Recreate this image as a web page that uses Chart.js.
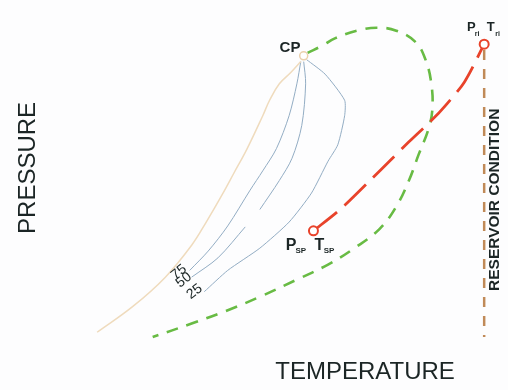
<!DOCTYPE html>
<html>
<head>
<meta charset="utf-8">
<script src="https://cdn.jsdelivr.net/npm/chart.js@4.4.1/dist/chart.umd.min.js"></script>
<style>
  html, body { margin: 0; padding: 0; background: #fdfdfe; }
  #wrap { width: 508px; height: 390px; position: relative; }
</style>
</head>
<body>
<div id="wrap"><canvas id="phaseChart"></canvas></div>
<script>
// temperature (T) and pressure (P) in arbitrary units, 0..100
const bubbleT = [59.45, 57.48, 55.12, 53.15, 51.77, 48.62, 45.87, 43.31, 40.35, 37.40, 32.09, 25.59, 18.31];
const bubbleP = [85.38, 82.56, 79.49, 75.13, 71.03, 62.31, 55.64, 49.49, 42.82, 36.67, 28.21, 20.51, 13.59];

const dewT = [60.83, 63.98, 66.34, 70.87, 74.80, 78.74, 82.68, 84.65, 85.83, 86.02, 85.24, 83.27, 81.30, 78.74, 75.39, 70.28, 64.96, 58.46, 51.77, 44.29, 37.40, 29.53];
const dewP = [87.69, 89.74, 91.54, 93.59, 94.36, 93.59, 90.51, 85.90, 79.49, 72.56, 67.44, 60.77, 53.85, 46.92, 41.03, 35.90, 31.54, 27.44, 23.33, 19.23, 15.90, 12.31];

const q75T = [59.45, 58.66, 57.09, 54.53, 51.77, 49.21, 44.69, 40.75, 37.01];
const q75P = [85.38, 79.49, 71.03, 62.31, 56.41, 51.28, 41.79, 35.13, 30.00];

const q50UpperT = [60.04, 60.43, 59.65, 57.68, 55.12, 51.18];
const q50UpperP = [85.38, 79.49, 68.46, 59.74, 53.85, 46.15];
const q50LowerT = [48.23, 42.72, 37.40];
const q50LowerP = [41.54, 33.33, 28.21];

const q25T = [60.63, 64.37, 68.31, 68.31, 66.93, 64.96, 61.61, 57.09, 51.18, 44.69, 39.96];
const q25P = [85.90, 82.05, 75.13, 71.03, 63.33, 58.97, 50.51, 42.82, 35.90, 30.00, 24.36];

const pathT = [62.01, 66.93, 69.49, 75.79, 81.30, 86.02, 88.58, 92.52, 96.50];
const pathP = [40.51, 45.64, 48.72, 56.92, 64.10, 70.00, 73.59, 80.00, 90.00];

const reservoirT = [96.50, 96.50];
const reservoirP = [88.46, 12.31];

const criticalPoint = { T: 60.04, P: 86.92 };
const separatorPoint = { T: 62.01, P: 40.51 };
const reservoirPoint = { T: 96.50, P: 90.00 };

const qualityLabels = ['75', '50', '25'];

function toPoints(ts, ps) {
  return ts.map((t, i) => ({ x: t, y: ps[i] }));
}

const FONT = '"Liberation Sans", Arial, sans-serif';
const INK = '#1b2525';

const textLabels = [
  { text: 'CP', t: 57.28, p: 88.97, font: 'bold 15px ' + FONT, rot: 0 },
  { text: qualityLabels[0], t: 34.84, p: 29.49, font: '14px ' + FONT, rot: -38 },
  { text: qualityLabels[1], t: 35.83, p: 27.44, font: '14px ' + FONT, rot: -38 },
  { text: qualityLabels[2], t: 37.99, p: 24.36, font: '14px ' + FONT, rot: -38 },
  { text: 'P', t: 57.48, p: 36.67, font: 'bold 16px ' + FONT, rot: 0 },
  { text: 'SP', t: 59.45, p: 35.13, font: 'bold 8px ' + FONT, rot: 0 },
  { text: 'T', t: 63.19, p: 36.67, font: 'bold 16px ' + FONT, rot: 0 },
  { text: 'SP', t: 65.16, p: 35.13, font: 'bold 8px ' + FONT, rot: 0 },
  { text: 'P', t: 93.90, p: 94.36, font: 'bold 13px ' + FONT, rot: 0 },
  { text: 'ri', t: 95.08, p: 92.82, font: 'bold 7px ' + FONT, rot: 0 },
  { text: 'T', t: 97.83, p: 94.36, font: 'bold 13px ' + FONT, rot: 0 },
  { text: 'ri', t: 99.21, p: 92.82, font: 'bold 7px ' + FONT, rot: 0 },
  { text: 'RESERVOIR CONDITION', t: 98.62, p: 48.72, font: 'bold 15.5px ' + FONT, rot: -90 },
  { text: 'PRESSURE', t: 4.33, p: 57.18, font: '24px ' + FONT, rot: -90 },
  { text: 'TEMPERATURE', t: 72.44, p: 3.08, font: '24px ' + FONT, rot: 0 }
];

const background = {
  id: 'background',
  beforeDraw(chart) {
    const ctx = chart.ctx;
    ctx.save();
    ctx.fillStyle = '#fdfdfe';
    ctx.fillRect(0, 0, chart.width, chart.height);
    ctx.restore();
  }
};

const labelsPlugin = {
  id: 'labels',
  afterDatasetsDraw(chart) {
    const ctx = chart.ctx;
    const xs = chart.scales.x, ys = chart.scales.y;
    textLabels.forEach(l => {
      ctx.save();
      ctx.translate(xs.getPixelForValue(l.t), ys.getPixelForValue(l.p));
      ctx.rotate(l.rot * Math.PI / 180);
      ctx.font = l.font;
      ctx.fillStyle = INK;
      ctx.textAlign = 'center';
      ctx.textBaseline = 'middle';
      ctx.fillText(l.text, 0, 0);
      ctx.restore();
    });
  }
};

const lineStyle = { showLine: true, pointRadius: 0, fill: false };

new Chart(document.getElementById('phaseChart'), {
  type: 'scatter',
  data: {
    datasets: [
      {
        label: 'Reservoir state', data: [{ x: reservoirPoint.T, y: reservoirPoint.P }],
        pointRadius: 4.5, pointBorderWidth: 2, pointBorderColor: '#e8432b', pointBackgroundColor: '#ffffff'
      },
      {
        label: 'Separator', data: [{ x: separatorPoint.T, y: separatorPoint.P }],
        pointRadius: 4.5, pointBorderWidth: 2, pointBorderColor: '#e8432b', pointBackgroundColor: '#ffffff'
      },
      {
        label: 'Critical point', data: [{ x: criticalPoint.T, y: criticalPoint.P }],
        pointRadius: 4, pointBorderWidth: 1.5, pointBorderColor: '#ebd0ac', pointBackgroundColor: '#ffffff'
      },
      {
        ...lineStyle, label: 'Production path', data: toPoints(pathT, pathP),
        borderColor: '#e8432b', borderWidth: 2.8, borderDash: [30, 10], tension: 0.3
      },
      {
        ...lineStyle, label: 'Reservoir condition', data: toPoints(reservoirT, reservoirP),
        borderColor: '#c08a58', borderWidth: 2.5, borderDash: [10, 9]
      },
      {
        ...lineStyle, label: 'Dew point', data: toPoints(dewT, dewP),
        borderColor: '#68bb44', borderWidth: 2.6, borderDash: [12, 9], tension: 0.4
      },
      {
        ...lineStyle, label: 'Bubble point', data: toPoints(bubbleT, bubbleP),
        borderColor: '#efdbbd', borderWidth: 1.5, tension: 0.4
      },
      {
        ...lineStyle, label: '75', data: toPoints(q75T, q75P),
        borderColor: '#93adc4', borderWidth: 1, tension: 0.3
      },
      {
        ...lineStyle, label: '50', data: toPoints(q50UpperT, q50UpperP),
        borderColor: '#93adc4', borderWidth: 1, tension: 0.3
      },
      {
        ...lineStyle, label: '50 lower', data: toPoints(q50LowerT, q50LowerP),
        borderColor: '#93adc4', borderWidth: 1, tension: 0.3
      },
      {
        ...lineStyle, label: '25', data: toPoints(q25T, q25P),
        borderColor: '#93adc4', borderWidth: 1, tension: 0.2
      }
    ]
  },
  options: {
    responsive: true,
    maintainAspectRatio: false,
    animation: false,
    layout: { padding: 0 },
    plugins: {
      legend: { display: false },
      tooltip: { enabled: false }
    },
    scales: {
      x: { type: 'linear', min: 0, max: 100, display: false },
      y: { type: 'linear', min: 0, max: 100, display: false }
    }
  },
  plugins: [background, labelsPlugin]
});
</script>
</body>
</html>
